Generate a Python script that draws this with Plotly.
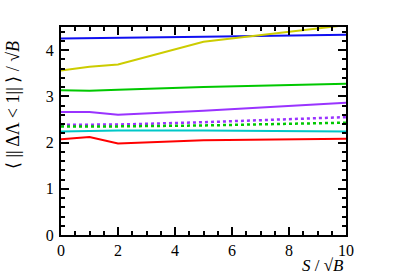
import plotly.graph_objects as go

x_vals = [0, 1, 2, 5, 10]
blue = [4.25, 4.26, 4.27, 4.29, 4.33]
yellow = [3.56, 3.64, 3.69, 4.18, 4.54]
green = [3.13, 3.12, 3.14, 3.20, 3.27]
purple = [2.66, 2.66, 2.60, 2.69, 2.86]
purple_dot = [2.385, 2.39, 2.39, 2.44, 2.55]
green_dot = [2.35, 2.35, 2.35, 2.37, 2.43]
cyan = [2.24, 2.25, 2.26, 2.26, 2.24]
red = [2.07, 2.12, 1.98, 2.05, 2.08]

series = [
    (blue, "#1010f0", "solid"),
    (yellow, "#cccc00", "solid"),
    (green, "#00c800", "solid"),
    (purple, "#9933ff", "solid"),
    (purple_dot, "#9933ff", "dot"),
    (green_dot, "#00c800", "dot"),
    (cyan, "#00c8c8", "solid"),
    (red, "#ff0000", "solid"),
]

fig = go.Figure()
for ys, col, dash in series:
    fig.add_trace(go.Scatter(x=x_vals, y=ys, mode="lines",
                             line=dict(color=col, width=2.5 if dash == "dot" else 2, dash=dash),
                             showlegend=False, cliponaxis=True))

FAM = "Liberation Serif"
font = dict(family=FAM, size=16, color="black")
axis_common = dict(showgrid=False, zeroline=False, showline=True, linecolor="black", linewidth=2,
                   mirror="allticks", ticks="inside", ticklen=8, tickwidth=1.5, tickcolor="black",
                   tickfont=font)
fig.update_xaxes(range=[0, 10], dtick=2, tick0=0,
                 minor=dict(dtick=0.5, ticks="inside", ticklen=4, tickcolor="black", tickwidth=1.5),
                 **axis_common)
fig.update_yaxes(range=[0, 4.5], dtick=1, tick0=0, ticklabelstandoff=2,
                 minor=dict(dtick=0.2, ticks="inside", ticklen=4, tickcolor="black", tickwidth=1.5),
                 **axis_common)

fig.add_annotation(text="<i>S</i> / √<i>B</i>", xref="paper", yref="paper", x=1, y=0,
                   xanchor="right", yanchor="top", yshift=-19, showarrow=False,
                   font=dict(family=FAM, size=17, color="black"))
fig.add_annotation(text="⟨ || ΔΛ < 1|| ⟩ / √<i>B</i>", xref="paper", yref="paper", x=0, y=1,
                   xanchor="right", yanchor="top", xshift=-36, yshift=-12, textangle=-90,
                   showarrow=False, font=dict(family=FAM, size=18, color="black"))

fig.update_layout(width=407, height=277, margin=dict(l=61, r=61, t=27, b=42),
                  plot_bgcolor="white", paper_bgcolor="white", font=dict(family=FAM))
fig.write_html("out.html", config={"displayModeBar": False},
               post_script="document.body.style.margin='0';")
